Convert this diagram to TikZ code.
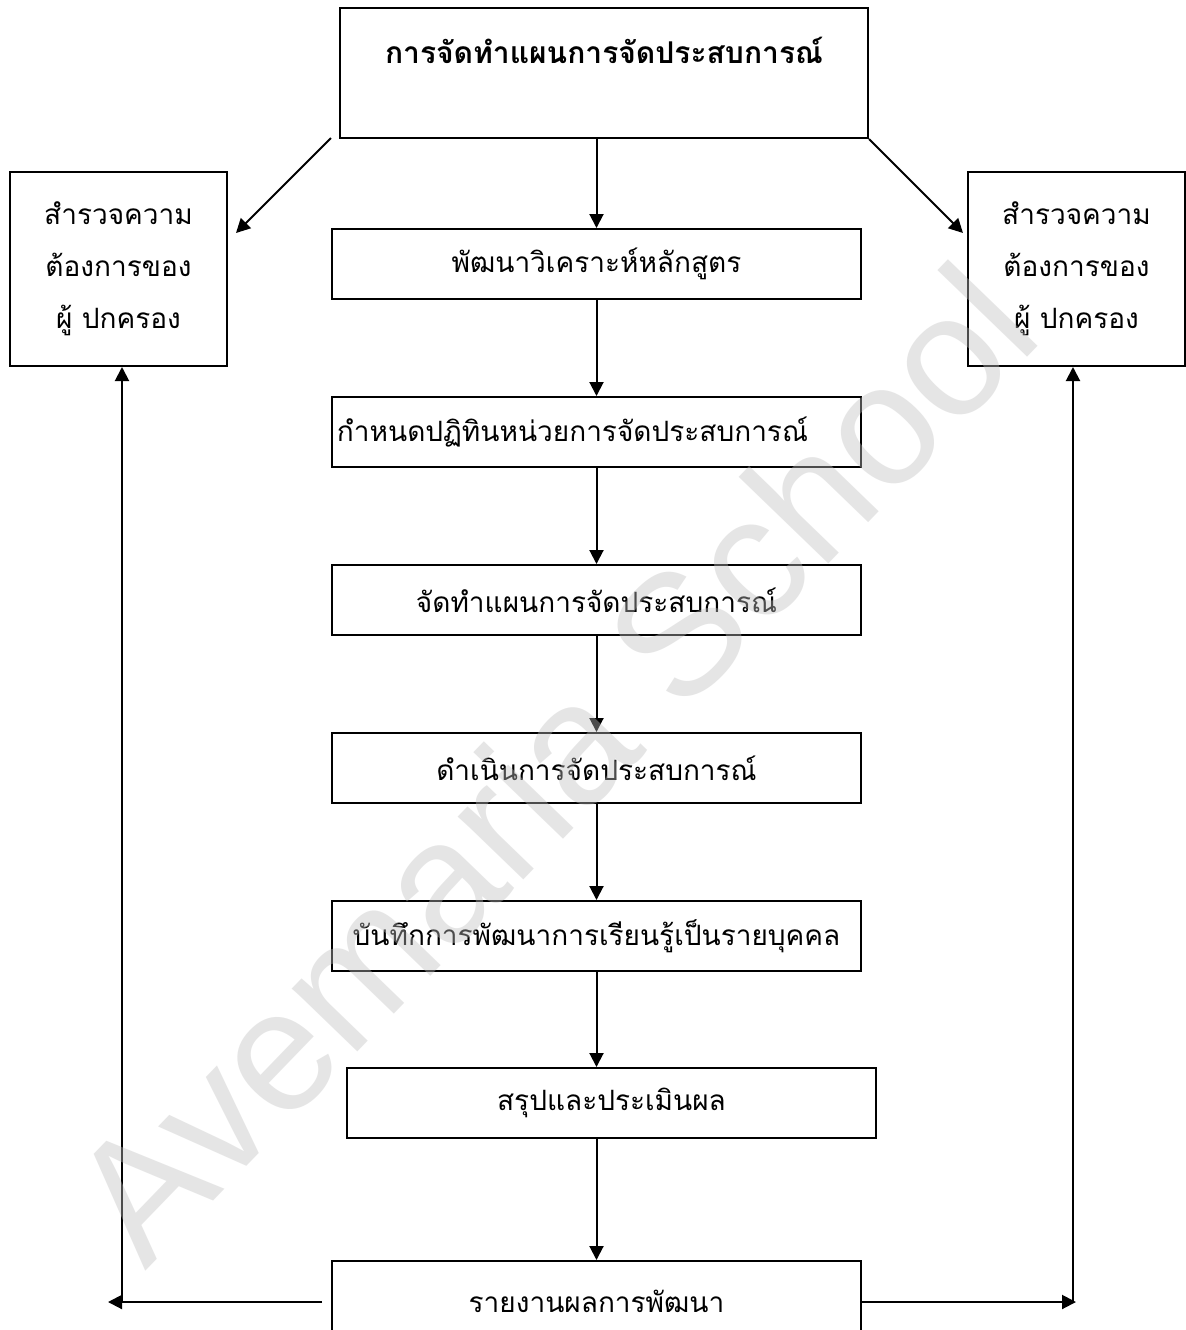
\documentclass[tikz,border=0pt]{standalone}
\usepackage{fontspec}
\newfontfamily\thai[Script=Thai]{Loma}
\newfontfamily\wmfont{Liberation Sans}
\usetikzlibrary{arrows.meta}
\begin{document}
\begin{tikzpicture}[x=0.5pt,y=-0.5pt,
  box/.style={draw, line width=1pt, inner sep=0pt, font=\thai\fontsize{14}{26}\selectfont, align=center},
  midbox/.style={box, minimum width=264.5pt, minimum height=35pt},
  sidebox/.style={box, minimum width=108.5pt, minimum height=97pt},
  arr/.style={line width=1pt, -{Triangle[length=7pt,width=7pt]}}]
\useasboundingbox (0,0) rectangle (1186,1330);
\fill[white] (0,0) rectangle (1186,1330);
% top box
\node[box, minimum width=264pt, minimum height=65pt] (top) at (604,73) {};
\node[font=\thai\bfseries\fontsize{15}{18}\selectfont] (title) at (604,50) {การจัดทำแผนการจัดประสบการณ์};
% side boxes
\node[sidebox] (lbox) at (118.5,269) {สำรวจความ\\ต้องการของ\\ผู้ ปกครอง};
\node[sidebox] (rbox) at (1076.5,269) {สำรวจความ\\ต้องการของ\\ผู้ ปกครอง};
% middle boxes
\node[midbox] (b1) at (596.5,264) {พัฒนาวิเคราะห์หลักสูตร};
\node[midbox] (b2) at (596.5,432) {กำหนดปฏิทินหน่วยการจัดประสบการณ์\hspace*{24pt}};
\node[midbox] (b3) at (596.5,600) {จัดทำแผนการจัดประสบการณ์};
\node[midbox] (b4) at (596.5,768) {ดำเนินการจัดประสบการณ์};
\node[midbox] (b5) at (596.5,936) {บันทึกการพัฒนาการเรียนรู้เป็นรายบุคคล};
\node[midbox] (b6) at (611.5,1103) {สรุปและประเมินผล};
\node[midbox, minimum height=40pt] (b7) at (596.5,1301) {รายงานผลการพัฒนา};
% coordinates
\coordinate (tl) at (331,138);
\coordinate (lt) at (236,233);
\coordinate (rt) at (963,233);
\coordinate (lend) at (108,1302);
\coordinate (lcorner) at (122,1302);
\coordinate (lstart) at (322,1302);
\coordinate (rend) at (1076,1302);
\coordinate (rcorner) at (1073,1302);
% connectors
\draw[arr] (tl) -- (lt);
\draw[arr] (top.south east) -- (rt);
\draw[arr] (top.south -| b1.north) -- (b1.north);
\draw[arr] (b1) -- (b2);
\draw[arr] (b2) -- (b3);
\draw[arr] (b3) -- (b4);
\draw[arr] (b4) -- (b5);
\draw[arr] (b5.south) -- (b6.north -| b5.south);
\draw[arr] (b6.south -| b7.north) -- (b7.north);
\draw[arr] (lstart) -- (lend);
\draw[arr] (lcorner) -- (lbox.south -| lcorner);
\draw[arr] (b7.east |- rend) -- (rend);
\draw[arr] (rcorner) -- (rbox.south -| rcorner);
% watermark
\node[rotate=46, font=\wmfont\fontsize{86}{86}\selectfont, text=black!25, opacity=0.4, inner sep=0pt] (wm) at (552,762) {Avemaria School};
\end{tikzpicture}
\end{document}
